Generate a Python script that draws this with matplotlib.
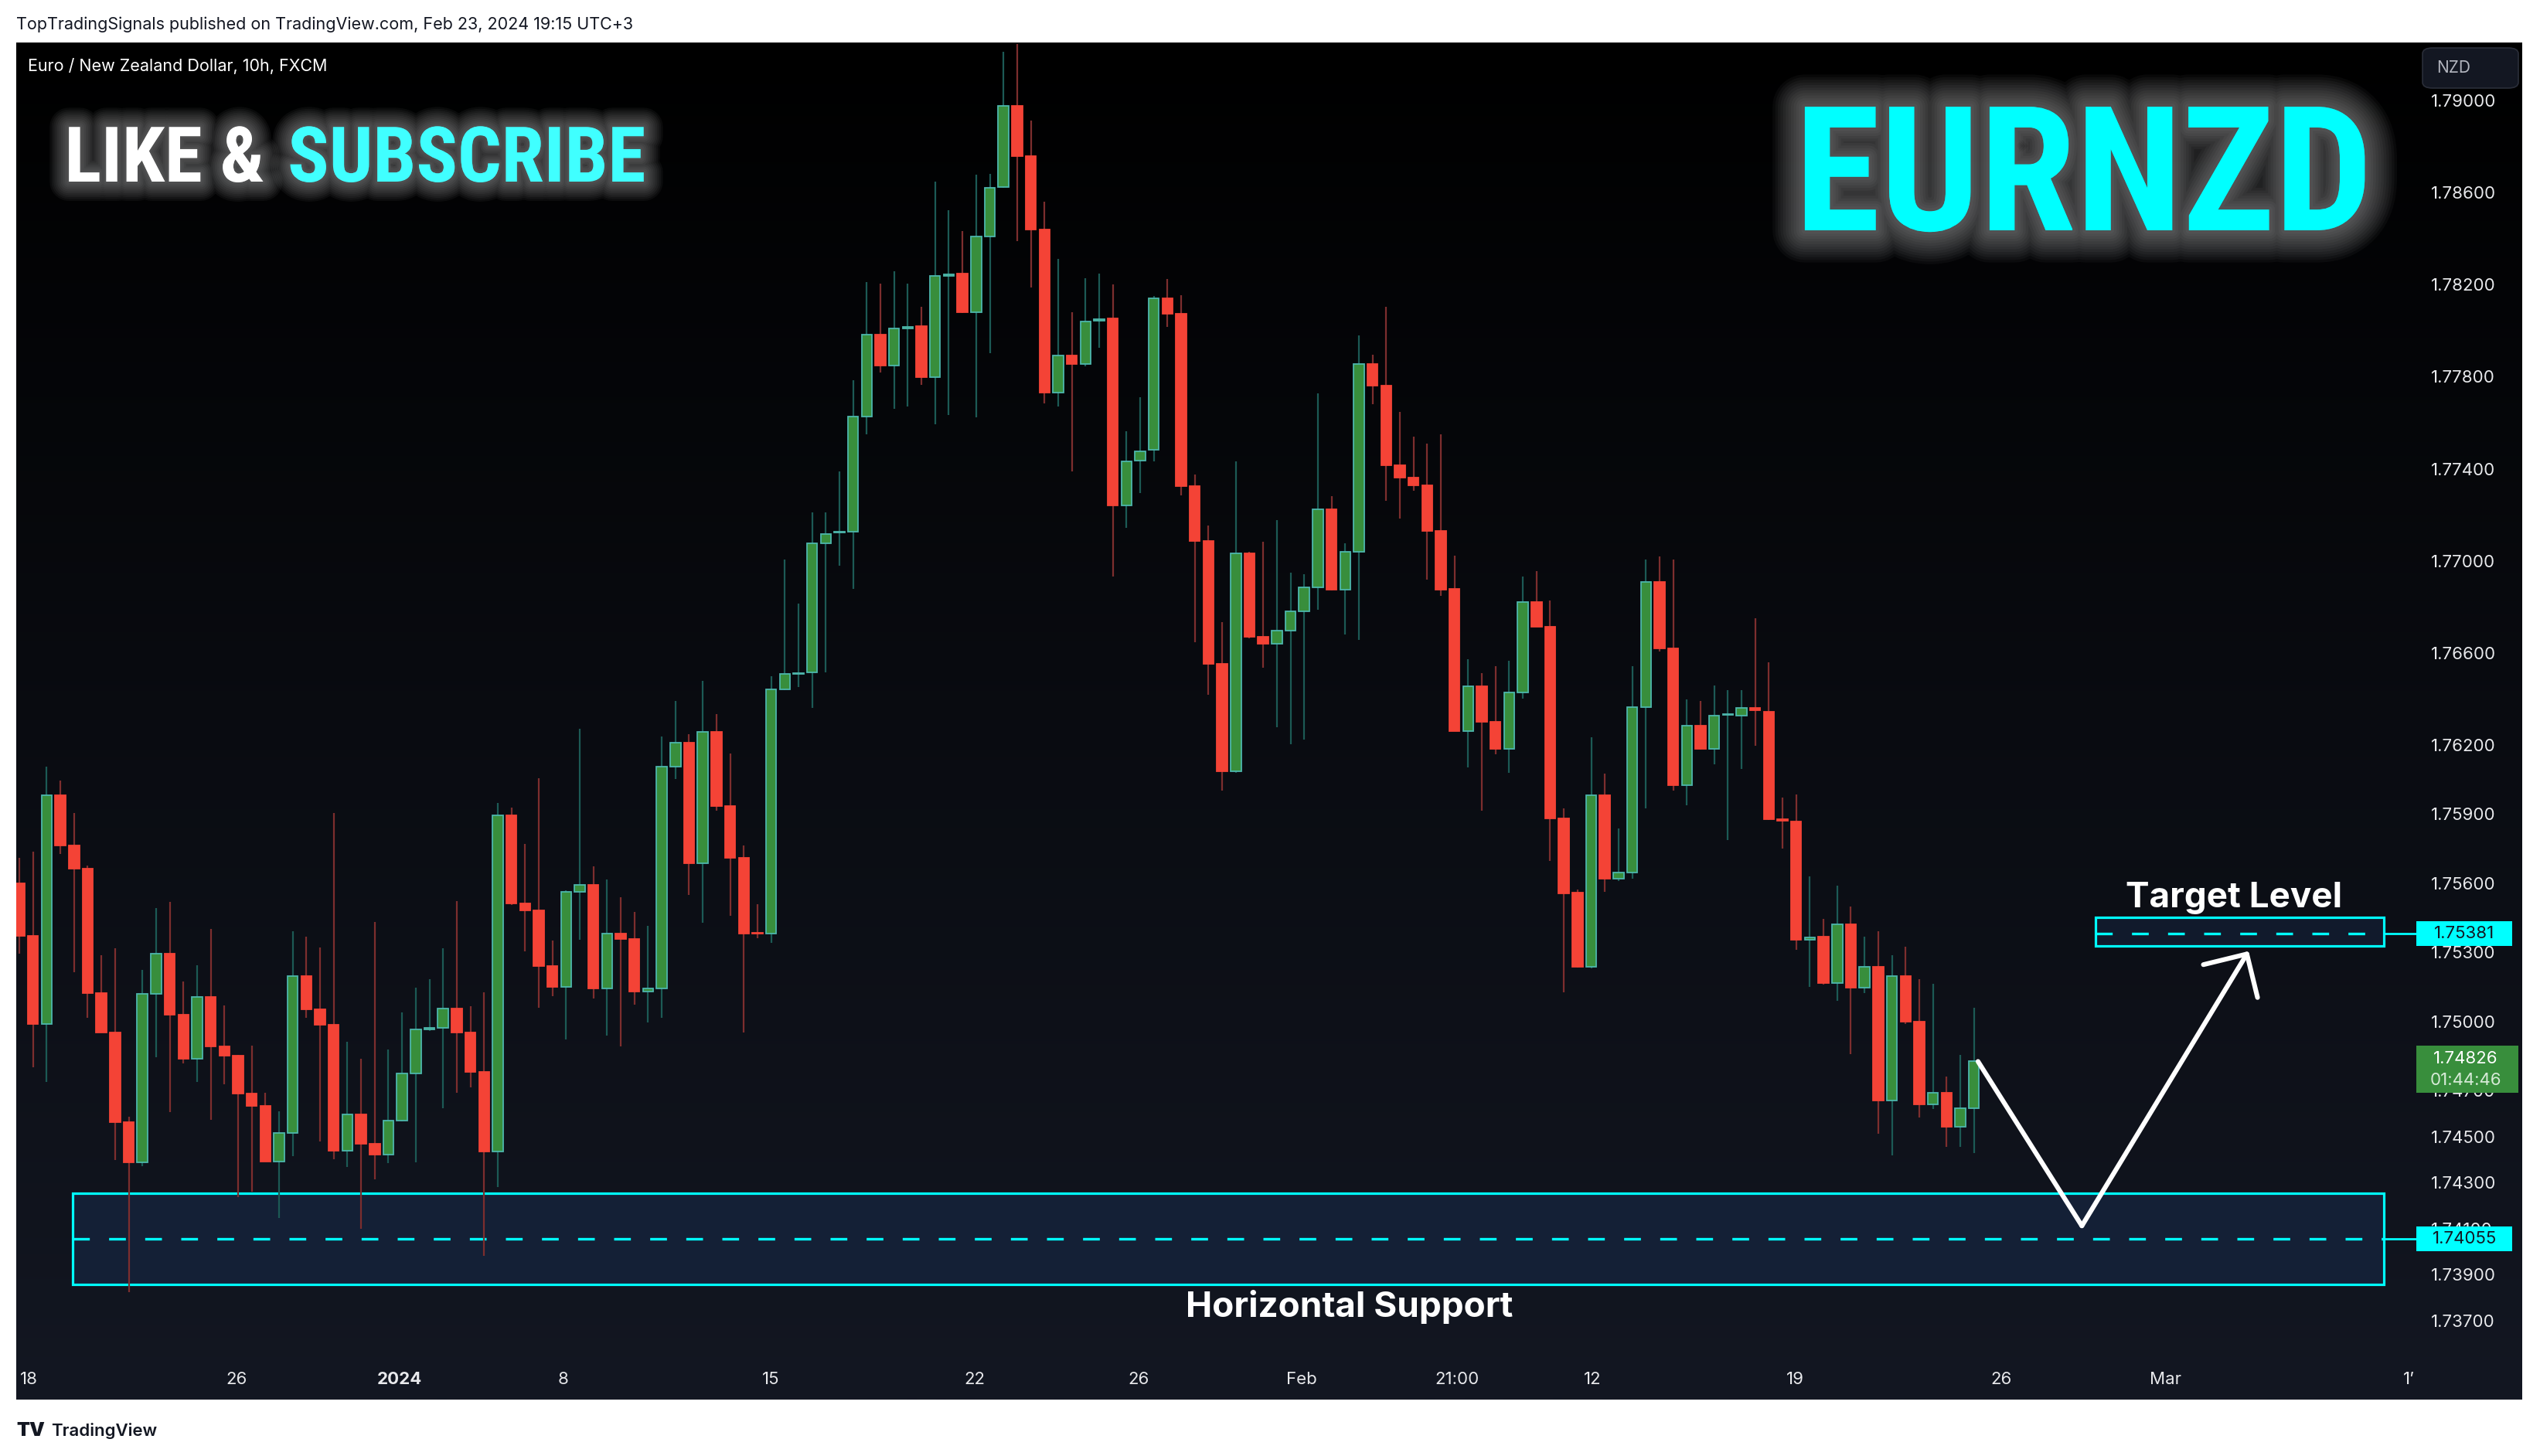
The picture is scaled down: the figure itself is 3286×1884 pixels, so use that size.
import matplotlib
matplotlib.use('Agg')
import matplotlib.pyplot as plt
import numpy as np
from matplotlib import patheffects as pe
from matplotlib import font_manager as fm
from matplotlib.patches import Rectangle, FancyBboxPatch

plt.rcParams['font.family'] = ['Inter', 'DejaVu Sans']

W, H = 3286, 1884          # output size in px (dpi 100)


## candle data: EURNZD 10h bars
# -------------------------------------------------------------
opens = [1.75600, 1.75372, 1.74990, 1.75982, 1.75765, 1.75664, 1.75124, 1.74953, 1.74561, 1.74389,
         1.75118, 1.75295, 1.75030, 1.74839, 1.75105, 1.74890, 1.74850, 1.74686, 1.74633, 1.74392,
         1.74516, 1.75198, 1.75051, 1.74986, 1.74439, 1.74596, 1.74469, 1.74423, 1.74570, 1.74774,
         1.74965, 1.74971, 1.75055, 1.74951, 1.74780, 1.74434, 1.75895, 1.75512, 1.75481, 1.75242,
         1.75151, 1.75564, 1.75592, 1.75142, 1.75382, 1.75357, 1.75128, 1.75142, 1.76105, 1.76212,
         1.75686, 1.76256, 1.75934, 1.75710, 1.75383, 1.75380, 1.76441, 1.76510, 1.76516, 1.77075,
         1.77122, 1.77128, 1.77627, 1.77983, 1.77847, 1.78010, 1.78019, 1.77797, 1.78238, 1.78247,
         1.78080, 1.78409, 1.78623, 1.78977, 1.78757, 1.78439, 1.77732, 1.77891, 1.77855, 1.78044,
         1.78053, 1.77240, 1.77437, 1.77482, 1.78139, 1.78072, 1.77326, 1.77087, 1.76552, 1.76086,
         1.77033, 1.76670, 1.76639, 1.76696, 1.76781, 1.76884, 1.77223, 1.76875, 1.77040, 1.77854,
         1.77760, 1.77414, 1.77362, 1.77329, 1.77129, 1.76879, 1.76260, 1.76456, 1.76300, 1.76182,
         1.76430, 1.76821, 1.76715, 1.75881, 1.75559, 1.75237, 1.75981, 1.75619, 1.75647, 1.76364,
         1.76910, 1.76619, 1.76026, 1.76285, 1.76182, 1.76330, 1.76328, 1.76360, 1.76345, 1.75878,
         1.75867, 1.75354, 1.75368, 1.75165, 1.75422, 1.75146, 1.75237, 1.74658, 1.75196, 1.75000,
         1.74641, 1.74689, 1.74543, 1.74624]
highs = [1.75709, 1.75738, 1.76106, 1.76046, 1.75905, 1.75677, 1.75287, 1.75317, 1.74585, 1.75222,
         1.75492, 1.75518, 1.75173, 1.75243, 1.75401, 1.75068, 1.74855, 1.74893, 1.74689, 1.74609,
         1.75391, 1.75367, 1.75320, 1.75905, 1.74911, 1.74837, 1.75431, 1.74877, 1.75038, 1.75148,
         1.75183, 1.75319, 1.75522, 1.75066, 1.75126, 1.75948, 1.75928, 1.75772, 1.76056, 1.75351,
         1.75570, 1.76270, 1.75673, 1.75617, 1.75539, 1.75475, 1.75415, 1.76237, 1.76392, 1.76248,
         1.76479, 1.76334, 1.76163, 1.75764, 1.75510, 1.76499, 1.77006, 1.76815, 1.77211, 1.77211,
         1.77387, 1.77785, 1.78211, 1.78205, 1.78259, 1.78205, 1.78103, 1.78648, 1.78523, 1.78434,
         1.78679, 1.78682, 1.79210, 1.79245, 1.78913, 1.78559, 1.78311, 1.78080, 1.78228, 1.78247,
         1.78200, 1.77563, 1.77710, 1.78150, 1.78225, 1.78153, 1.77376, 1.77154, 1.76733, 1.77433,
         1.77040, 1.77084, 1.77176, 1.76950, 1.76943, 1.77727, 1.77282, 1.77077, 1.77979, 1.77895,
         1.78104, 1.77647, 1.77539, 1.77511, 1.77551, 1.77023, 1.76573, 1.76512, 1.76543, 1.76566,
         1.76931, 1.76955, 1.76828, 1.75926, 1.75573, 1.76233, 1.76077, 1.75837, 1.76544, 1.77006,
         1.77019, 1.77006, 1.76398, 1.76392, 1.76458, 1.76439, 1.76439, 1.76751, 1.76559, 1.75972,
         1.75985, 1.75630, 1.75446, 1.75589, 1.75499, 1.75368, 1.75391, 1.75287, 1.75324, 1.75184,
         1.75163, 1.74761, 1.74855, 1.75059]
lows = [1.75295, 1.74802, 1.74737, 1.75728, 1.75214, 1.75014, 1.74953, 1.74399, 1.73825, 1.74371,
        1.74845, 1.74607, 1.74818, 1.74737, 1.74574, 1.74728, 1.74236, 1.74260, 1.74392, 1.74146,
        1.74416, 1.75015, 1.74480, 1.74400, 1.74368, 1.74100, 1.74315, 1.74384, 1.74565, 1.74389,
        1.74958, 1.74622, 1.74691, 1.74713, 1.73981, 1.74280, 1.75505, 1.75304, 1.75058, 1.75108,
        1.74920, 1.75355, 1.75100, 1.74938, 1.74891, 1.75071, 1.74997, 1.75015, 1.76052, 1.75548,
        1.75428, 1.75915, 1.75459, 1.74951, 1.75360, 1.75340, 1.76438, 1.76453, 1.76361, 1.76516,
        1.76978, 1.76878, 1.77549, 1.77819, 1.77660, 1.77671, 1.77763, 1.77593, 1.77635, 1.78075,
        1.77624, 1.77902, 1.78620, 1.78389, 1.78186, 1.77685, 1.77671, 1.77387, 1.77846, 1.77927,
        1.76931, 1.77145, 1.77293, 1.77432, 1.78016, 1.77284, 1.76647, 1.76419, 1.76003, 1.76080,
        1.76665, 1.76536, 1.76277, 1.76204, 1.76225, 1.76788, 1.76870, 1.76679, 1.76656, 1.77680,
        1.77261, 1.77183, 1.77306, 1.76917, 1.76847, 1.76260, 1.76102, 1.75914, 1.76159, 1.76081,
        1.76402, 1.76715, 1.75697, 1.75127, 1.75234, 1.75230, 1.75561, 1.75610, 1.75619, 1.75925,
        1.76606, 1.76002, 1.75938, 1.76180, 1.76116, 1.75788, 1.76096, 1.76197, 1.75875, 1.75750,
        1.75311, 1.75150, 1.75160, 1.75090, 1.74857, 1.75122, 1.74512, 1.74418, 1.74988, 1.74581,
        1.74620, 1.74454, 1.74454, 1.74428]
closes = [1.75372, 1.74990, 1.75982, 1.75765, 1.75664, 1.75124, 1.74953, 1.74561, 1.74389, 1.75118,
          1.75295, 1.75030, 1.74839, 1.75105, 1.74890, 1.74850, 1.74686, 1.74633, 1.74392, 1.74516,
          1.75198, 1.75051, 1.74986, 1.74439, 1.74596, 1.74469, 1.74423, 1.74570, 1.74774, 1.74965,
          1.74973, 1.75055, 1.74951, 1.74780, 1.74434, 1.75895, 1.75512, 1.75481, 1.75242, 1.75151,
          1.75564, 1.75592, 1.75142, 1.75382, 1.75357, 1.75128, 1.75142, 1.76105, 1.76212, 1.75686,
          1.76256, 1.75934, 1.75710, 1.75381, 1.75380, 1.76443, 1.76508, 1.76514, 1.77075, 1.77118,
          1.77128, 1.77627, 1.77983, 1.77847, 1.78008, 1.78016, 1.77797, 1.78236, 1.78244, 1.78080,
          1.78409, 1.78620, 1.78977, 1.78757, 1.78439, 1.77732, 1.77891, 1.77855, 1.78041, 1.78050,
          1.77240, 1.77432, 1.77476, 1.78139, 1.78072, 1.77326, 1.77087, 1.76552, 1.76086, 1.77033,
          1.76670, 1.76639, 1.76696, 1.76781, 1.76884, 1.77223, 1.76875, 1.77040, 1.77854, 1.77760,
          1.77414, 1.77362, 1.77329, 1.77129, 1.76875, 1.76260, 1.76456, 1.76300, 1.76182, 1.76430,
          1.76821, 1.76715, 1.75881, 1.75557, 1.75237, 1.75981, 1.75619, 1.75647, 1.76364, 1.76910,
          1.76619, 1.76026, 1.76285, 1.76182, 1.76328, 1.76334, 1.76360, 1.76350, 1.75878, 1.75873,
          1.75354, 1.75364, 1.75165, 1.75422, 1.75146, 1.75236, 1.74658, 1.75196, 1.75000, 1.74641,
          1.74689, 1.74543, 1.74624, 1.74826]

# axis labels (x positions are bar numbers)
date_pos = [0.7, 15.9, 27.8, 39.8, 55.0, 69.9, 81.9, 93.8, 105.2, 115.1, 129.9, 145.0, 157.0, 174.8]
date_lab = ['18', '26', '2024', '8', '15', '22', '26', 'Feb', '21:00', '12', '19', '26', 'Mar', '1\u2019']
price_ticks = [1.790, 1.786, 1.782, 1.778, 1.774, 1.770, 1.766, 1.762, 1.759, 1.756,
               1.753, 1.750, 1.747, 1.745, 1.743, 1.741, 1.739, 1.737]

# drawn zones / projection
support_lo, support_mid, support_hi = 1.73857, 1.74055, 1.74252
target_lo, target_mid, target_hi = 1.75326, 1.75381, 1.75452
support_x0, target_x0, zone_x1 = 3.9, 151.9, 173.0
last_price = 1.74826
countdown = '01:44:46'
path_x = [143.3, 150.9, 163.1]
path_y = [1.74826, 1.74112, 1.75305]
# -------------------------------------------------------------


def fx(px):
    return px / W


def fy(py):
    return 1 - py / H


def pick_condensed():
    # look for a narrow bold face for the banner texts
    tries = [('Liberation Sans Narrow', 'normal'), ('Noto Sans Condensed', 'normal'),
             ('Roboto Condensed', 'normal'), ('Open Sans Condensed', 'normal'),
             ('DejaVu Sans Condensed', 'normal'), ('Noto Sans', 'condensed'),
             ('Open Sans', 'condensed'), ('DejaVu Sans', 'condensed')]
    for fam, st in tries:
        try:
            path = fm.findfont(fm.FontProperties(family=fam, weight='bold', stretch=st),
                               fallback_to_default=False)
        except ValueError:
            continue
        low = path.lower()
        if 'condensed' in low or 'narrow' in low:
            return fm.FontProperties(fname=path)
    return fm.FontProperties(family='DejaVu Sans', weight='bold')


big_font = pick_condensed()

fig = plt.figure(figsize=(W / 100, H / 100), dpi=100, facecolor='white')

# dark gradient frame of the chart
bg = fig.add_axes([fx(21), fy(1811), fx(3263) - fx(21), fy(54.5) - fy(1811)])
grad = np.linspace(0, 1, 256)[:, None, None]
c_top = np.array([0, 0, 0]) / 255
c_bot = np.array([19, 23, 34]) / 255
bg.imshow(c_top + grad * (c_bot - c_top), aspect='auto', interpolation='bilinear')
bg.set_axis_off()
bg.set_zorder(0)

ax = fig.add_axes([fx(21), fy(1756), fx(3123) - fx(21), fy(54.5) - fy(1756)])
ax.set_zorder(1)
ax.set_facecolor('none')
for s in ax.spines.values():
    s.set_visible(False)

# Candles
# -------------------------------------------------------------
o, h, l, c = map(np.array, (opens, highs, lows, closes))
idx = np.arange(len(o))
up = c >= o
body_lo = np.minimum(o, c)
body_h = np.maximum(np.abs(c - o), 0.00004)

ax.vlines(idx[up], l[up], h[up], color='#1c5a55', lw=1.6, zorder=2)
ax.vlines(idx[~up], l[~up], h[~up], color='#7d2e2e', lw=1.6, zorder=2)
ax.bar(idx[up], body_h[up], bottom=body_lo[up], width=0.76,
       color='#388e3c', edgecolor='#4db6ac', linewidth=1.3, zorder=3)
ax.bar(idx[~up], body_h[~up], bottom=body_lo[~up], width=0.76,
       color='#f44336', edgecolor='#f44336', linewidth=1.3, zorder=3)

# Zones
# -------------------------------------------------------------
cyan = '#00ffff'
ax.add_patch(Rectangle((support_x0, support_lo), zone_x1 - support_x0, support_hi - support_lo,
                       fc='#142036', ec=cyan, lw=2.3, zorder=1.5))
ax.hlines(support_mid, support_x0, zone_x1, colors=cyan, lw=2.4,
          linestyles=(0, (6.5, 7.5)), zorder=1.6)
ax.add_patch(Rectangle((target_x0, target_lo), zone_x1 - target_x0, target_hi - target_lo,
                       fc='#111a2c', ec=cyan, lw=2.3, zorder=1.5))
ax.hlines(target_mid, target_x0, zone_x1, colors=cyan, lw=2.4,
          linestyles=(0, (6.5, 7.5)), zorder=1.6)
for val in (support_mid, target_mid):
    ax.plot([zone_x1, 175.6], [val, val], color=cyan, lw=2.0, clip_on=False, zorder=5)

ax.text(97.3, 1.73716, 'Horizontal Support', ha='center', va='baseline',
        fontsize=33, fontweight='bold', color='white', zorder=9)
ax.text(162.0, 1.75494, 'Target Level', ha='center', va='baseline',
        fontsize=33, fontweight='bold', color='white', zorder=9)

# projected path
ax.plot(path_x[:2], path_y[:2], color='white', lw=4.4,
        solid_capstyle='round', solid_joinstyle='round', zorder=8)
ax.annotate('', xy=(path_x[2], path_y[2]), xytext=(path_x[1], path_y[1]),
            arrowprops=dict(arrowstyle='->,head_length=2.95,head_width=2.95', lw=4.4,
                            color='white', shrinkA=0, shrinkB=0, mutation_scale=10,
                            capstyle='round', joinstyle='round'), zorder=8)

# Axes
# -------------------------------------------------------------
ax.set_xlim(-0.23, 175.2)
ax.set_ylim(1.73542, 1.79253)
ax.set_xticks(date_pos)
ax.set_xticklabels(date_lab)
for t in ax.get_xticklabels():
    if t.get_text() == '2024':
        t.set_fontweight('bold')
ax.yaxis.tick_right()
ax.set_yticks(price_ticks)
ax.set_yticklabels([f'{p:.5f}' for p in price_ticks])
ax.tick_params(axis='x', length=0, pad=13.5, labelsize=16, colors='#e8e9ec')
ax.tick_params(axis='y', length=0, pad=15.5, labelsize=16, colors='#e8e9ec')

# price tags on the scale
ytr = ax.get_yaxis_transform()
for val in (target_mid, support_mid):
    ax.add_patch(Rectangle((1.001, val - 0.00054), 0.040, 0.00108, transform=ytr,
                           fc=cyan, ec='none', clip_on=False, zorder=6))
    ax.text(1.021, val, f'{val:.5f}', transform=ytr, ha='center', va='center',
            fontsize=16, color='#131722', clip_on=False, zorder=7)
ax.add_patch(Rectangle((1.001, 1.74690), 0.0425, 0.00205, transform=ytr,
                       fc='#388e3c', ec='none', clip_on=False, zorder=6))
ax.text(1.0215, 1.74838, f'{last_price:.5f}', transform=ytr, ha='center', va='center',
        fontsize=16, color='white', clip_on=False, zorder=7)
ax.text(1.0215, 1.74744, countdown, transform=ytr, ha='center', va='center',
        fontsize=16, color='#d6ead7', clip_on=False, zorder=7)

# Texts around the frame
# -------------------------------------------------------------
fig.text(fx(21), fy(32), 'TopTradingSignals published on TradingView.com, Feb 23, 2024 19:15 UTC+3',
         ha='left', va='center', fontsize=15.5, color='#131722')
fig.text(fx(36), fy(86), 'Euro / New Zealand Dollar, 10h, FXCM',
         ha='left', va='center', fontsize=15.5, color='white')
fig.patches.append(FancyBboxPatch((fx(3134), fy(114)), fx(124), 52 / H,
                                  boxstyle='round,pad=0,rounding_size=0.004',
                                  transform=fig.transFigure, fc='#131722', ec='#2a2e39', lw=1.2))
fig.text(fx(3152), fy(88), 'NZD', ha='left', va='center', fontsize=15, color='#b2b5be')
fig.text(fx(21), fy(1851), 'TV', ha='left', va='center', fontsize=18,
         fontweight='black', color='#131722')
fig.text(fx(66), fy(1851), 'TradingView', ha='left', va='center', fontsize=16,
         fontweight='semibold', color='#131722')


def glow(color, widths, alpha):
    fx_list = [pe.Stroke(linewidth=w, foreground=color, alpha=alpha, joinstyle='round')
               for w in widths]
    return fx_list + [pe.Normal()]


t_like = fig.text(fx(342), fy(235), 'LIKE &', ha='right', va='baseline',
                  fontproperties=big_font, fontsize=70, color='white',
                  path_effects=glow('#c8c8c8', np.linspace(36, 4, 10), 0.05))
t_sub = fig.text(fx(372), fy(235), 'SUBSCRIBE', ha='left', va='baseline',
                 fontproperties=big_font, fontsize=70, color='#40ffff',
                 path_effects=glow('#c8c8c8', np.linspace(36, 4, 10), 0.05))
t_pair = fig.text(fx(2322), fy(298), 'EURNZD', ha='left', va='baseline',
                  fontproperties=big_font, fontsize=160, color=cyan,
                  path_effects=glow('#d0d0d0', np.linspace(60, 6, 12), 0.045))

# fit the banner texts to the widths they take in the picture
fig.canvas.draw()
renderer = fig.canvas.get_renderer()
w_sub = t_sub.get_window_extent(renderer).width
t_sub.set_fontsize(t_sub.get_fontsize() * 463 / w_sub)
t_like.set_fontsize(t_sub.get_fontsize())
w_pair = t_pair.get_window_extent(renderer).width
t_pair.set_fontsize(t_pair.get_fontsize() * 748 / w_pair)

fig.savefig('out.png', dpi=100, facecolor='white')
